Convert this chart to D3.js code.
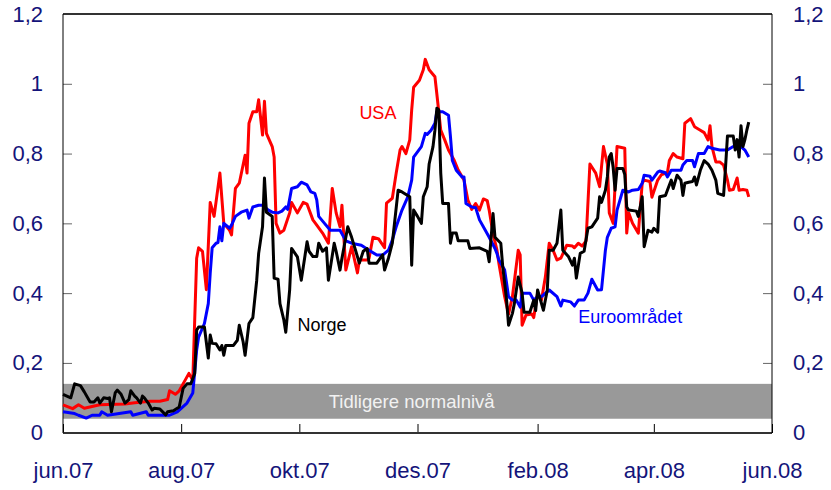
<!DOCTYPE html>
<meta charset="utf-8">
<style>
body {
  margin: 0;
  background: #fff;
}
text {
  font-family: "Liberation Sans", Arial, sans-serif;
}
</style>
<body>
<script src="https://cdn.jsdelivr.net/npm/d3@7"></script>
<script>

var width = 831,
    height = 490;

var margin = {top: 14, right: 59, bottom: 57, left: 63};

// tick labels
var yTicks = [0, 0.2, 0.4, 0.6, 0.8, 1, 1.2];
var yTickLabels = ["0", "0,2", "0,4", "0,6", "0,8", "1", "1,2"];
var xTicks = ["2007-06-01", "2007-08-01", "2007-10-01", "2007-12-01", "2008-02-01", "2008-04-01", "2008-06-01"];
var xTickLabels = ["jun.07", "aug.07", "okt.07", "des.07", "feb.08", "apr.08", "jun.08"];

// grey band: earlier normal level
var band = [0.04, 0.14];

// series [date, value]
var usa = [
  ["2007-06-01",0.08],["2007-06-06",0.069],["2007-06-09",0.08],["2007-06-12",0.07],["2007-06-16",0.075],["2007-06-20",0.08],
  ["2007-07-03",0.082],["2007-07-08",0.086],["2007-07-16",0.09],["2007-07-21",0.09],["2007-07-25",0.095],["2007-07-26",0.12],
  ["2007-07-29",0.11],["2007-07-31",0.12],["2007-08-03",0.15],["2007-08-05",0.17],["2007-08-07",0.15],["2007-08-09",0.50],
  ["2007-08-10",0.53],["2007-08-12",0.52],["2007-08-14",0.41],["2007-08-16",0.66],["2007-08-18",0.62],["2007-08-21",0.744],
  ["2007-08-23",0.60],["2007-08-26",0.58],["2007-08-27",0.567],["2007-08-29",0.70],["2007-08-31",0.715],["2007-09-03",0.795],
  ["2007-09-04",0.744],["2007-09-05",0.887],["2007-09-07",0.92],["2007-09-09",0.92],["2007-09-10",0.954],["2007-09-12",0.853],
  ["2007-09-13",0.95],["2007-09-14",0.858],["2007-09-17",0.82],["2007-09-18",0.79],["2007-09-19",0.60],["2007-09-21",0.572],
  ["2007-09-23",0.58],["2007-09-26",0.63],["2007-09-27",0.66],["2007-09-30",0.63],["2007-10-03",0.66],["2007-10-05",0.655],
  ["2007-10-08",0.61],["2007-10-10",0.595],["2007-10-13",0.572],["2007-10-16",0.543],["2007-10-18",0.70],["2007-10-20",0.63],
  ["2007-10-22",0.59],["2007-10-23",0.652],["2007-10-25",0.466],["2007-10-28",0.533],["2007-10-31",0.458],["2007-11-01",0.495],
  ["2007-11-05",0.495],["2007-11-06",0.50],["2007-11-08",0.56],["2007-11-11",0.555],["2007-11-14",0.53],["2007-11-15",0.658],
  ["2007-11-18",0.672],["2007-11-20",0.744],["2007-11-22",0.81],["2007-11-23",0.82],["2007-11-25",0.80],["2007-11-27",0.839],
  ["2007-11-28",0.925],["2007-11-29",0.99],["2007-12-02",1.01],["2007-12-04",1.04],["2007-12-05",1.07],["2007-12-07",1.04],
  ["2007-12-10",1.02],["2007-12-11",0.97],["2007-12-13",0.867],["2007-12-15",0.84],["2007-12-17",0.81],["2007-12-20",0.78],
  ["2007-12-22",0.753],["2007-12-25",0.724],["2007-12-27",0.667],["2007-12-29",0.64],["2007-12-31",0.657],["2008-01-02",0.638],
  ["2008-01-04",0.67],["2008-01-06",0.665],["2008-01-07",0.638],["2008-01-09",0.57],["2008-01-11",0.524],["2008-01-12",0.486],
  ["2008-01-15",0.39],["2008-01-17",0.34],["2008-01-19",0.39],["2008-01-22",0.523],["2008-01-23",0.51],["2008-01-24",0.308],
  ["2008-01-26",0.337],["2008-01-29",0.34],["2008-01-30",0.33],["2008-02-01",0.40],["2008-02-03",0.38],["2008-02-05",0.446],
  ["2008-02-07",0.543],["2008-02-09",0.523],["2008-02-11",0.495],["2008-02-13",0.50],["2008-02-16",0.537],["2008-02-19",0.535],
  ["2008-02-20",0.53],["2008-02-22",0.543],["2008-02-24",0.535],["2008-02-26",0.55],["2008-02-28",0.77],["2008-03-02",0.744],
  ["2008-03-04",0.705],["2008-03-06",0.82],["2008-03-08",0.77],["2008-03-09",0.63],["2008-03-11",0.60],["2008-03-13",0.82],
  ["2008-03-17",0.815],["2008-03-18",0.572],["2008-03-19",0.63],["2008-03-21",0.60],["2008-03-24",0.572],["2008-03-26",0.715],
  ["2008-03-27",0.724],["2008-03-30",0.72],["2008-03-31",0.675],["2008-04-03",0.724],["2008-04-05",0.74],["2008-04-08",0.745],
  ["2008-04-09",0.78],["2008-04-11",0.80],["2008-04-13",0.79],["2008-04-16",0.785],["2008-04-17",0.887],["2008-04-20",0.90],
  ["2008-04-22",0.877],["2008-04-25",0.867],["2008-04-27",0.86],["2008-04-29",0.839],["2008-04-30",0.88],["2008-05-01",0.82],
  ["2008-05-03",0.776],["2008-05-05",0.776],["2008-05-07",0.767],["2008-05-09",0.724],["2008-05-10",0.695],["2008-05-12",0.697],
  ["2008-05-14",0.73],["2008-05-15",0.695],["2008-05-17",0.697],["2008-05-19",0.695],["2008-05-20",0.676]
];

var euro = [
  ["2007-06-01",0.06],["2007-06-07",0.055],["2007-06-09",0.05],["2007-06-13",0.042],["2007-06-16",0.05],["2007-06-20",0.05],
  ["2007-06-21",0.06],["2007-06-24",0.05],["2007-07-06",0.06],["2007-07-07",0.05],["2007-07-14",0.06],["2007-07-15",0.05],
  ["2007-07-26",0.05],["2007-07-30",0.06],["2007-08-01",0.07],["2007-08-04",0.085],["2007-08-07",0.114],["2007-08-09",0.237],
  ["2007-08-10",0.274],["2007-08-13",0.313],["2007-08-15",0.37],["2007-08-16",0.457],["2007-08-17",0.53],["2007-08-19",0.543],
  ["2007-08-20",0.545],["2007-08-21",0.59],["2007-08-22",0.55],["2007-08-23",0.60],["2007-08-26",0.586],["2007-08-27",0.595],
  ["2007-08-29",0.62],["2007-09-01",0.632],["2007-09-04",0.638],["2007-09-05",0.615],["2007-09-07",0.647],["2007-09-10",0.652],
  ["2007-09-12",0.652],["2007-09-15",0.638],["2007-09-17",0.632],["2007-09-20",0.63],["2007-09-22",0.635],["2007-09-24",0.647],
  ["2007-09-25",0.64],["2007-09-27",0.70],["2007-09-30",0.705],["2007-10-02",0.718],["2007-10-05",0.71],["2007-10-07",0.69],
  ["2007-10-09",0.686],["2007-10-10",0.667],["2007-10-11",0.62],["2007-10-14",0.60],["2007-10-17",0.58],["2007-10-22",0.58],
  ["2007-10-25",0.55],["2007-10-28",0.543],["2007-11-02",0.537],["2007-11-06",0.523],["2007-11-10",0.509],["2007-11-13",0.509],
  ["2007-11-16",0.523],["2007-11-18",0.552],["2007-11-20",0.59],["2007-11-23",0.638],["2007-11-26",0.676],["2007-11-28",0.724],
  ["2007-11-29",0.79],["2007-12-01",0.805],["2007-12-03",0.82],["2007-12-05",0.858],["2007-12-06",0.855],["2007-12-08",0.867],
  ["2007-12-10",0.887],["2007-12-11",0.92],["2007-12-14",0.92],["2007-12-17",0.91],["2007-12-18",0.849],["2007-12-19",0.78],
  ["2007-12-21",0.752],["2007-12-24",0.733],["2007-12-25",0.733],["2007-12-26",0.657],["2007-12-29",0.647],["2007-12-31",0.645],
  ["2008-01-02",0.61],["2008-01-05",0.58],["2008-01-07",0.56],["2008-01-10",0.528],["2008-01-11",0.514],["2008-01-12",0.495],
  ["2008-01-15",0.466],["2008-01-17",0.39],["2008-01-19",0.38],["2008-01-21",0.38],["2008-01-23",0.36],["2008-01-24",0.40],
  ["2008-01-28",0.40],["2008-01-30",0.38],["2008-02-01",0.39],["2008-02-03",0.39],["2008-02-07",0.409],["2008-02-11",0.39],
  ["2008-02-13",0.363],["2008-02-14",0.38],["2008-02-18",0.375],["2008-02-20",0.363],["2008-02-22",0.38],["2008-02-25",0.38],
  ["2008-02-27",0.40],["2008-02-29",0.44],["2008-03-03",0.409],["2008-03-05",0.41],["2008-03-07",0.523],["2008-03-08",0.56],
  ["2008-03-10",0.586],["2008-03-12",0.59],["2008-03-13",0.638],["2008-03-16",0.695],["2008-03-19",0.69],["2008-03-21",0.695],
  ["2008-03-24",0.697],["2008-03-26",0.715],["2008-03-27",0.738],["2008-03-30",0.735],["2008-03-31",0.724],["2008-04-03",0.747],
  ["2008-04-04",0.75],["2008-04-07",0.745],["2008-04-08",0.733],["2008-04-10",0.752],["2008-04-15",0.752],["2008-04-16",0.767],
  ["2008-04-18",0.78],["2008-04-21",0.78],["2008-04-22",0.762],["2008-04-24",0.80],["2008-04-27",0.80],["2008-04-29",0.82],
  ["2008-05-01",0.815],["2008-05-05",0.81],["2008-05-09",0.81],["2008-05-12",0.82],["2008-05-16",0.82],["2008-05-18",0.81],
  ["2008-05-20",0.79]
];

var norge = [
  ["2007-06-01",0.11],["2007-06-05",0.10],["2007-06-07",0.14],["2007-06-10",0.135],["2007-06-12",0.117],["2007-06-15",0.088],
  ["2007-06-17",0.088],["2007-06-19",0.10],["2007-06-20",0.085],["2007-06-22",0.10],["2007-06-24",0.098],["2007-06-25",0.10],
  ["2007-06-26",0.06],["2007-06-28",0.115],["2007-06-29",0.122],["2007-07-01",0.11],["2007-07-03",0.085],["2007-07-05",0.095],
  ["2007-07-06",0.12],["2007-07-08",0.105],["2007-07-09",0.10],["2007-07-11",0.085],["2007-07-12",0.105],["2007-07-13",0.10],
  ["2007-07-15",0.085],["2007-07-17",0.065],["2007-07-18",0.07],["2007-07-21",0.068],["2007-07-24",0.051],["2007-07-25",0.06],
  ["2007-07-28",0.063],["2007-07-31",0.074],["2007-08-02",0.127],["2007-08-04",0.14],["2007-08-06",0.14],["2007-08-08",0.17],
  ["2007-08-09",0.294],["2007-08-10",0.303],["2007-08-13",0.303],["2007-08-15",0.214],["2007-08-16",0.28],["2007-08-17",0.256],
  ["2007-08-19",0.255],["2007-08-21",0.237],["2007-08-22",0.25],["2007-08-23",0.222],["2007-08-24",0.25],["2007-08-28",0.25],
  ["2007-08-30",0.265],["2007-08-31",0.308],["2007-09-02",0.26],["2007-09-03",0.222],["2007-09-05",0.313],["2007-09-07",0.33],
  ["2007-09-09",0.437],["2007-09-10",0.514],["2007-09-12",0.59],["2007-09-13",0.73],["2007-09-14",0.632],["2007-09-16",0.624],
  ["2007-09-17",0.62],["2007-09-18",0.443],["2007-09-20",0.44],["2007-09-21",0.37],["2007-09-23",0.323],["2007-09-24",0.288],
  ["2007-09-26",0.409],["2007-09-27",0.528],["2007-09-30",0.504],["2007-10-02",0.437],["2007-10-05",0.547],["2007-10-06",0.52],
  ["2007-10-08",0.505],["2007-10-10",0.505],["2007-10-11",0.543],["2007-10-13",0.52],["2007-10-15",0.53],["2007-10-16",0.437],
  ["2007-10-19",0.543],["2007-10-20",0.52],["2007-10-22",0.466],["2007-10-23",0.50],["2007-10-26",0.59],["2007-10-28",0.56],
  ["2007-10-30",0.523],["2007-11-01",0.486],["2007-11-03",0.52],["2007-11-05",0.528],["2007-11-06",0.486],["2007-11-10",0.486],
  ["2007-11-13",0.51],["2007-11-14",0.466],["2007-11-16",0.50],["2007-11-18",0.543],["2007-11-21",0.695],["2007-11-23",0.69],
  ["2007-11-27",0.676],["2007-11-28",0.48],["2007-11-29",0.638],["2007-12-01",0.62],["2007-12-03",0.60],["2007-12-04",0.676],
  ["2007-12-06",0.705],["2007-12-07",0.77],["2007-12-09",0.82],["2007-12-10",0.867],["2007-12-11",0.93],["2007-12-12",0.925],
  ["2007-12-13",0.744],["2007-12-14",0.657],["2007-12-17",0.657],["2007-12-18",0.543],["2007-12-19",0.572],["2007-12-21",0.572],
  ["2007-12-22",0.55],["2007-12-27",0.55],["2007-12-28",0.528],["2008-01-02",0.53],["2008-01-06",0.52],["2008-01-07",0.49],
  ["2008-01-09",0.628],["2008-01-10",0.56],["2008-01-13",0.543],["2008-01-14",0.476],["2008-01-16",0.38],["2008-01-17",0.308],
  ["2008-01-19",0.342],["2008-01-20",0.37],["2008-01-22",0.446],["2008-01-24",0.40],["2008-01-25",0.345],["2008-01-28",0.345],
  ["2008-01-30",0.38],["2008-01-31",0.35],["2008-02-01",0.409],["2008-02-04",0.351],["2008-02-06",0.409],["2008-02-07",0.523],
  ["2008-02-09",0.523],["2008-02-11",0.543],["2008-02-13",0.638],["2008-02-14",0.523],["2008-02-17",0.504],["2008-02-19",0.48],
  ["2008-02-20",0.50],["2008-02-21",0.443],["2008-02-23",0.514],["2008-02-25",0.52],["2008-02-27",0.586],["2008-02-29",0.59],
  ["2008-03-03",0.615],["2008-03-04",0.676],["2008-03-05",0.66],["2008-03-07",0.695],["2008-03-08",0.733],["2008-03-09",0.79],
  ["2008-03-10",0.80],["2008-03-11",0.76],["2008-03-12",0.695],["2008-03-13",0.757],["2008-03-16",0.757],["2008-03-17",0.74],
  ["2008-03-18",0.647],["2008-03-19",0.638],["2008-03-23",0.635],["2008-03-24",0.62],["2008-03-26",0.676],["2008-03-27",0.533],
  ["2008-03-29",0.58],["2008-03-31",0.575],["2008-04-01",0.586],["2008-04-03",0.575],["2008-04-04",0.676],["2008-04-07",0.68],
  ["2008-04-08",0.695],["2008-04-10",0.724],["2008-04-11",0.70],["2008-04-13",0.738],["2008-04-15",0.724],["2008-04-16",0.68],
  ["2008-04-17",0.715],["2008-04-19",0.718],["2008-04-21",0.72],["2008-04-22",0.733],["2008-04-23",0.71],["2008-04-25",0.752],
  ["2008-04-27",0.78],["2008-04-29",0.77],["2008-05-01",0.752],["2008-05-03",0.724],["2008-05-04",0.686],["2008-05-07",0.68],
  ["2008-05-08",0.76],["2008-05-09",0.85],["2008-05-12",0.85],["2008-05-13",0.81],["2008-05-14",0.84],["2008-05-15",0.79],
  ["2008-05-16",0.88],["2008-05-17",0.82],["2008-05-18",0.84],["2008-05-19",0.867],["2008-05-20",0.89]
];

// label anchors [text, date, value]
var seriesLabels = [
  ["USA", "2007-11-01", 0.9, "#ff0000"],
  ["Norge", "2007-09-30", 0.292, "#000000"],
  ["Euroområdet", "2008-02-22", 0.315, "#0000ff"]
];

var parse = d3.utcParse("%Y-%m-%d");

var x = d3.scaleUtc()
    .domain([parse(xTicks[0]), parse(xTicks[xTicks.length - 1])])
    .range([margin.left, width - margin.right]);

var y = d3.scaleLinear()
    .domain([0, 1.2])
    .range([height - margin.bottom - 0.3, margin.top]);

var svg = d3.select("body").append("svg")
    .attr("width", width)
    .attr("height", height);

// grey band
svg.append("rect")
    .attr("x", x.range()[0])
    .attr("width", x.range()[1] - x.range()[0])
    .attr("y", y(band[1]))
    .attr("height", y(band[0]) - y(band[1]))
    .attr("fill", "#999999");

svg.append("text")
    .attr("x", x(parse("2007-11-28")))
    .attr("y", y((band[0] + band[1]) / 2))
    .attr("dy", "0.35em")
    .attr("text-anchor", "middle")
    .attr("font-size", 18.5)
    .attr("fill", "#f2f2f2")
    .text("Tidligere normalnivå");

// axes
var axisColor = "#14147a";

function styleAxis(g) {
  g.attr("font-family", "Liberation Sans, Arial, sans-serif")
   .attr("font-size", 22);
  g.select(".domain").remove();
  g.selectAll("text").attr("fill", axisColor);
}

svg.append("g")
    .attr("transform", "translate(" + margin.left + ",0)")
    .call(d3.axisLeft(y)
      .tickValues(yTicks)
      .tickFormat(function(d, i) { return yTickLabels[i]; })
      .tickSizeInner(-9).tickSizeOuter(0).tickPadding(20))
    .call(styleAxis)
    .selectAll("line").attr("stroke", "#666");

svg.append("g")
    .attr("transform", "translate(" + (width - margin.right) + ",0)")
    .call(d3.axisRight(y)
      .tickValues(yTicks)
      .tickFormat(function(d, i) { return yTickLabels[i]; })
      .tickSizeInner(-9).tickSizeOuter(0).tickPadding(21))
    .call(styleAxis)
    .selectAll("line").attr("stroke", "#666");

svg.append("g")
    .attr("transform", "translate(0," + (height - margin.bottom) + ")")
    .call(d3.axisBottom(x)
      .tickValues(xTicks.map(parse))
      .tickFormat(function(d, i) { return xTickLabels[i]; })
      .tickSizeInner(-9).tickSizeOuter(0).tickPadding(29))
    .call(styleAxis)
    .selectAll("line").attr("stroke", "#000");

// frame
var x0 = x.range()[0], x1 = x.range()[1], yTop = margin.top, yBot = height - margin.bottom;
svg.append("line").attr("x1", x0).attr("x2", x1).attr("y1", yTop).attr("y2", yTop)
    .attr("stroke", "#333").attr("stroke-width", 2);
svg.append("line").attr("x1", x0).attr("x2", x1).attr("y1", yBot).attr("y2", yBot)
    .attr("stroke", "#333").attr("stroke-width", 2);
svg.append("line").attr("x1", x0).attr("x2", x0).attr("y1", yTop).attr("y2", yBot)
    .attr("stroke", "#000").attr("stroke-width", 1);
svg.append("line").attr("x1", x1).attr("x2", x1).attr("y1", yTop).attr("y2", yBot)
    .attr("stroke", "#000").attr("stroke-width", 1);

// lines
var line = d3.line()
    .x(function(d) { return x(parse(d[0])); })
    .y(function(d) { return y(d[1]); });

var series = [
  {data: usa, color: "#ff0000"},
  {data: euro, color: "#0000ff"},
  {data: norge, color: "#000000"}
];

svg.selectAll(".series")
    .data(series)
  .enter().append("path")
    .attr("class", "series")
    .attr("d", function(d) { return line(d.data); })
    .attr("fill", "none")
    .attr("stroke", function(d) { return d.color; })
    .attr("stroke-width", 3)
    .attr("stroke-linejoin", "round");

svg.selectAll(".label")
    .data(seriesLabels)
  .enter().append("text")
    .attr("class", "label")
    .attr("x", function(d) { return x(parse(d[1])); })
    .attr("y", function(d) { return y(d[2]); })
    .attr("font-size", 18)
    .attr("fill", function(d) { return d[3]; })
    .text(function(d) { return d[0]; });

</script>
